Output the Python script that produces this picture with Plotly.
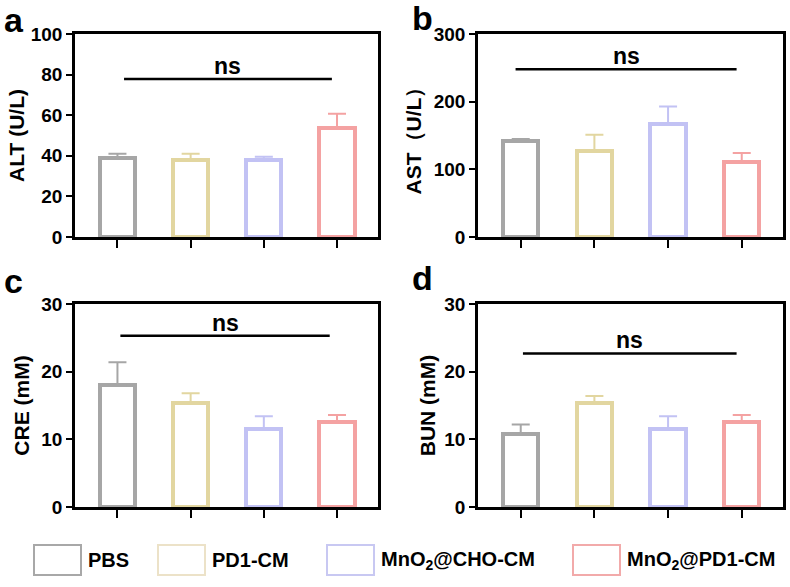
"""Serum biochemistry panels (ALT, AST, CRE, BUN) as outlined bar charts"""
import plotly.graph_objects as go
from plotly.subplots import make_subplots

# groups and colours
groups = ['PBS', 'PD1-CM', 'MnO<sub>2</sub>@CHO-CM', 'MnO<sub>2</sub>@PD1-CM']
colors = ['#a6a6a6', '#e2d6a0', '#c2c2f4', '#f4a2a2']
legend_colors = ['#a8a8a8', '#ece2c8', '#c8c8f2', '#f2aaaa']

# values (mean, upper error)
alt_mean = [39, 38, 38, 53.7]
alt_err = [2.0, 3.0, 1.5, 7.0]
ast_mean = [142, 127, 167, 111]
ast_err = [3, 24, 26, 13]
cre_mean = [18.0, 15.4, 11.5, 12.6]
cre_err = [3.4, 1.4, 1.9, 1.0]
bun_mean = [10.8, 15.4, 11.5, 12.6]
bun_err = [1.4, 1.0, 1.9, 1.0]

# panel settings
titles = ['ALT (U/L)', 'AST（U/L）', 'CRE (mM)', 'BUN (mM)']
letters = ['a', 'b', 'c', 'd']
y_max = [100, 300, 30, 30]
y_dtick = [20, 100, 10, 10]
ns_y = [77.8, 248, 25.3, 22.7]
ns_x0 = [0.09, -0.07, 0.04, 0.03]
ns_x1 = [2.93, 2.93, 2.90, 2.93]

means = [alt_mean, ast_mean, cre_mean, bun_mean]
errs = [alt_err, ast_err, cre_err, bun_err]

FONT = 'Liberation Sans, Arial, sans-serif'
W, H = 790, 587

fig = make_subplots(rows=2, cols=2)

positions = [(1, 1), (1, 2), (2, 1), (2, 2)]
cats = [0, 1, 2, 3]

# one trace per bar so each error bar takes its bar's colour
for i, (r, c) in enumerate(positions):
    for k in range(4):
        fig.add_trace(
            go.Bar(x=[cats[k]], y=[means[i][k]], width=0.48,
                   marker=dict(color='white', line=dict(color=colors[k], width=4)),
                   error_y=dict(type='data', array=[errs[i][k]], arrayminus=[0],
                                symmetric=False, color=colors[k], thickness=2, width=9),
                   showlegend=False),
            row=r, col=c
        )

# plot frames measured in pixels
x_dom = [(75, 378), (478, 783), (75, 378), (478, 783)]
y_dom = [(34, 237), (34, 237), (304, 507), (304, 507)]
letter_pos = [(2, 20), (410, 18), (2, 281), (410, 278)]
title_standoff = [1, 7, 6, 3]

for i, (r, c) in enumerate(positions):
    xd = [x_dom[i][0] / W, x_dom[i][1] / W]
    yd = [1 - y_dom[i][1] / H, 1 - y_dom[i][0] / H]
    fig.update_xaxes(domain=xd, range=[-0.58, 3.56], tickvals=cats,
                     showticklabels=False, ticks='outside', ticklen=8,
                     tickwidth=2, tickcolor='black', showline=True,
                     linewidth=2.5, linecolor='black', mirror=True,
                     showgrid=False, zeroline=False, automargin=False,
                     row=r, col=c)
    fig.update_yaxes(domain=yd, range=[0, y_max[i]], dtick=y_dtick[i],
                     ticks='outside', ticklen=6, tickwidth=2, tickcolor='black',
                     showline=True, linewidth=2.5, linecolor='black', mirror=True,
                     showgrid=False, zeroline=False, automargin=False,
                     tickfont=dict(family=FONT, size=19, color='black', weight='bold'),
                     title=dict(text='<b>' + titles[i] + '</b>', standoff=title_standoff[i],
                                font=dict(family=FONT, size=21, color='black')),
                     row=r, col=c)

    xref = 'x' if i == 0 else 'x%d' % (i + 1)
    yref = 'y' if i == 0 else 'y%d' % (i + 1)
    # significance line and label
    fig.add_shape(type='line', xref=xref, yref=yref, x0=ns_x0[i], x1=ns_x1[i],
                  y0=ns_y[i], y1=ns_y[i], line=dict(color='black', width=2.5))
    fig.add_annotation(xref=xref, yref=yref, x=(ns_x0[i] + ns_x1[i]) / 2, y=ns_y[i],
                       text='<b>ns</b>', showarrow=False, yanchor='bottom', yshift=-2,
                       font=dict(family=FONT, size=23, color='black'))
    # panel letter
    fig.add_annotation(xref='paper', yref='paper',
                       x=letter_pos[i][0] / W, y=1 - letter_pos[i][1] / H,
                       text='<b>' + letters[i] + '</b>', showarrow=False,
                       xanchor='left', yanchor='middle',
                       font=dict(family=FONT, size=34, color='black'))

# legend drawn as boxes + labels along the bottom
legend_x = [34, 158, 327, 573]
for k in range(4):
    x0 = legend_x[k]
    fig.add_shape(type='rect', xref='paper', yref='paper',
                  x0=x0 / W, x1=(x0 + 47) / W, y0=1 - 575 / H, y1=1 - 545 / H,
                  line=dict(color=legend_colors[k], width=2), fillcolor='white')
    fig.add_annotation(xref='paper', yref='paper', x=(x0 + 52) / W, y=1 - 560 / H,
                       text='<b>' + groups[k] + '</b>', showarrow=False,
                       xanchor='left', yanchor='middle',
                       font=dict(family=FONT, size=20, color='black'))

fig.update_layout(
    width=W, height=H,
    margin=dict(l=0, r=0, t=0, b=0),
    plot_bgcolor='white',
    paper_bgcolor='white',
    bargap=0,
    showlegend=False
)

# page body margin would push the figure 8px off the window
fig.write_html("out.html", config={'displayModeBar': False},
               post_script="document.body.style.margin='0';")
